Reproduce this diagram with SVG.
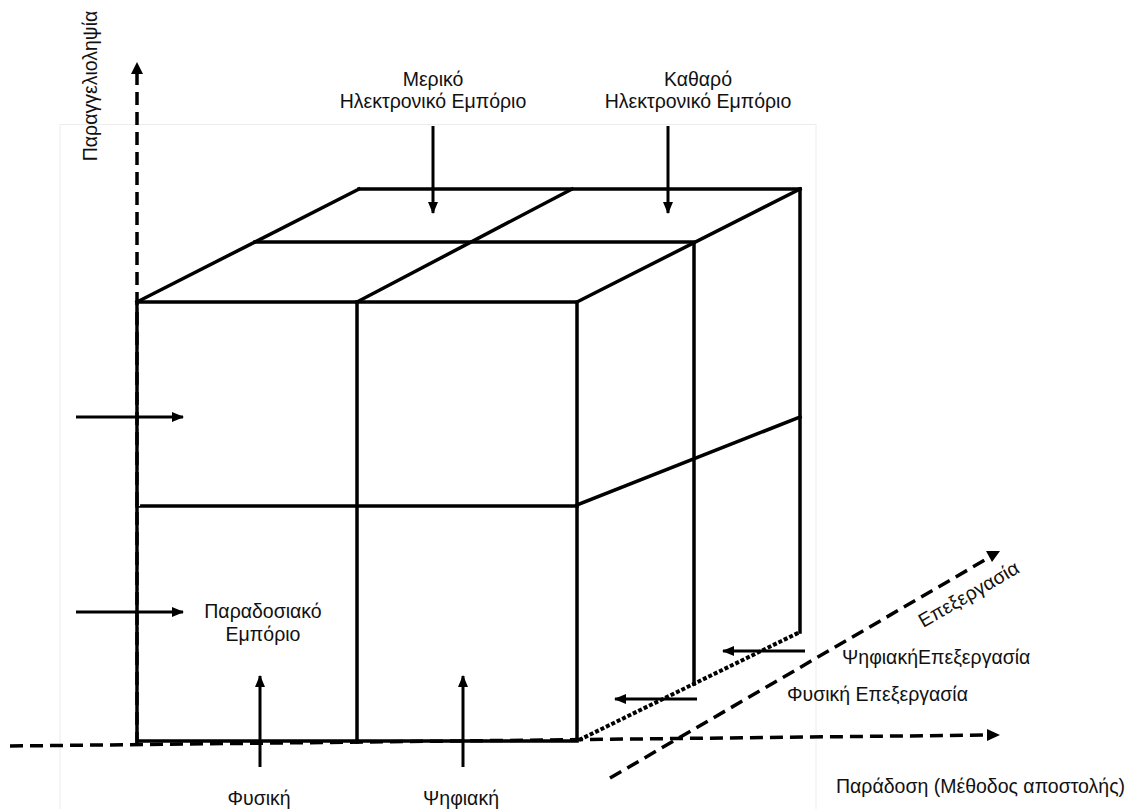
<svg xmlns="http://www.w3.org/2000/svg" width="1127" height="809" viewBox="0 0 1127 809">
<defs>
<marker id="ah" viewBox="0 0 12 10" refX="11" refY="5" markerWidth="12" markerHeight="10" markerUnits="userSpaceOnUse" orient="auto">
<path d="M0,0 L12,5 L0,10 z" fill="#000"/>
</marker>
</defs>
<style>
.t{font-family:"Liberation Sans",Arial,sans-serif;font-size:19.5px;fill:#111;}
.m{text-anchor:middle;}
.e{stroke:#000;stroke-width:3.5;fill:none;stroke-linecap:square;}
.ax{stroke:#000;stroke-width:3.5;fill:none;stroke-dasharray:13 7;}
.ar{stroke:#000;stroke-width:3;fill:none;marker-end:url(#ah);}
.fr{stroke:#ececec;stroke-width:1;fill:none;}
</style>
<rect width="1127" height="809" fill="#fff"/>
<path class="fr" d="M60,809 V124.5 H816 V809"/>

<g id="cube">
<path class="e" d="M137,302 H577 V741 H137 Z"/>
<line class="e" x1="357" y1="302" x2="357" y2="742"/>
<line class="e" x1="137" y1="506" x2="577" y2="506"/>
<line class="e" x1="137" y1="302" x2="359" y2="189"/>
<line class="e" x1="359" y1="189" x2="800" y2="189"/>
<line class="e" x1="577" y1="302" x2="800" y2="189"/>
<line class="e" x1="255" y1="242" x2="694" y2="242"/>
<line class="e" x1="357" y1="302" x2="572" y2="189"/>
<line class="e" x1="800" y1="189" x2="800" y2="632"/>
<line class="e" x1="694" y1="243" x2="694" y2="684"/>
<line class="e" x1="577" y1="505" x2="800" y2="417"/>
<line x1="579" y1="740" x2="800" y2="632" stroke="#000" stroke-width="4" stroke-dasharray="4 2"/>
<line x1="139.5" y1="305" x2="139.5" y2="740" stroke="#fff" stroke-width="1.2" stroke-dasharray="3 8"/>
</g>

<g id="connectors">
<line class="ax" x1="137" y1="745" x2="137" y2="72"/>
<path d="M131,74 L137,62 L143,74 z" fill="#000"/>
<line class="ax" x1="10" y1="746" x2="988" y2="735"/>
<path d="M987,729 L1000,735 L987,741 z" fill="#000"/>
<line class="ax" x1="610" y1="778" x2="990" y2="557"/>
<path d="M986,551 L1000,551 L992,562 z" fill="#000"/>
<line class="ar" x1="433" y1="126" x2="433" y2="213"/>
<line class="ar" x1="668" y1="126" x2="668" y2="213"/>
<line class="ar" x1="76" y1="417" x2="183" y2="417"/>
<line class="ar" x1="76" y1="612" x2="183" y2="612"/>
<line class="ar" x1="260" y1="767" x2="260" y2="676"/>
<line class="ar" x1="463" y1="767" x2="463" y2="676"/>
<line class="ar" x1="805" y1="651" x2="723" y2="651"/>
<line class="ar" x1="697" y1="699" x2="615" y2="699"/>
</g>

<g id="labels">
<text class="t m" transform="translate(97,86) rotate(-90)">Παραγγελιοληψία</text>
<text class="t m" x="433" y="86">Μερικό</text>
<text class="t m" x="433" y="108">Ηλεκτρονικό Εμπόριο</text>
<text class="t m" x="698" y="86">Καθαρό</text>
<text class="t m" x="698" y="108">Ηλεκτρονικό Εμπόριο</text>
<text class="t m" x="263" y="618">Παραδοσιακό</text>
<text class="t m" x="263" y="641">Εμπόριο</text>
<text class="t m" x="259" y="805">Φυσική</text>
<text class="t m" x="461" y="805">Ψηφιακή</text>
<text class="t" x="842" y="664">ΨηφιακήΕπεξεργασία</text>
<text class="t" x="787" y="701">Φυσική Επεξεργασία</text>
<text class="t" x="836" y="793">Παράδοση (Μέθοδος αποστολής)</text>
<text class="t m" transform="translate(972,600) rotate(-30)">Επεξεργασία</text>
</g>
</svg>
